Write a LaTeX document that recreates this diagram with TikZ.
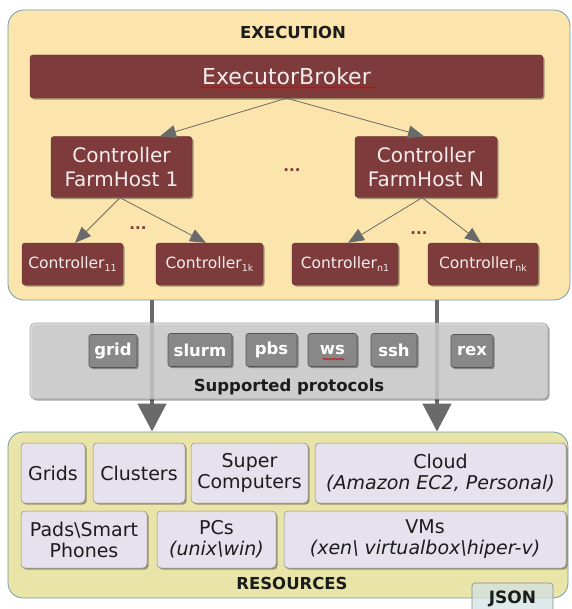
\documentclass[tikz,border=0pt]{standalone}
\usepackage{fontspec}
\setmainfont{DejaVu Sans}[ItalicFont={DejaVu Sans Oblique},BoldFont={DejaVu Sans Bold}]
\usetikzlibrary{arrows.meta,shadows,decorations.pathmorphing}

\definecolor{execfill}{HTML}{FBE5AD}
\definecolor{resfill}{HTML}{E9E4A8}
\definecolor{framebord}{HTML}{6E9DAE}
\definecolor{brick}{HTML}{7E3B3B}
\definecolor{nodetext}{HTML}{F4ECEC}
\definecolor{arrowgray}{HTML}{6A6A6A}
\definecolor{protofill}{HTML}{D8D8D8}
\definecolor{protoedge}{HTML}{A6A6A6}
\definecolor{chipgray}{HTML}{888888}
\definecolor{chipedge}{HTML}{555555}
\definecolor{lavender}{HTML}{E6E1EC}
\definecolor{resedge}{HTML}{8C8C8C}
\definecolor{jsonfill}{HTML}{D3E2E4}
\definecolor{labeltext}{HTML}{1C1C1C}

\newcommand{\fsz}[2]{\fontsize{#1}{#2}\selectfont}
\newcommand{\idx}[1]{\raisebox{-3.5pt}{\fsz{9.5}{10}#1}}

\tikzset{
  shad/.style={drop shadow={shadow xshift=1.6pt,shadow yshift=-1.6pt,opacity=0.35,fill=black}},
  frame/.style={draw=framebord,line width=0.8pt,rounded corners=16pt},
  redbox/.style={shad,fill=brick,draw=brick!80!black,line width=0.4pt,rounded corners=3pt,
    text=nodetext,align=center,inner sep=0pt},
  chip/.style={shad,fill=chipgray,draw=chipedge,line width=0.6pt,rounded corners=2.5pt,
    text=white,font=\bfseries\fsz{16.5}{18},inner sep=0pt,minimum height=33pt},
  resbox/.style={shad,fill=lavender,draw=resedge,line width=0.5pt,rounded corners=4pt,
    align=center,inner sep=0pt,text=labeltext,font=\fsz{19}{21}},
  thinarrow/.style={draw=arrowgray,line width=0.8pt,-{Triangle[width=13pt,length=16pt]}},
  bigarrow/.style={draw=arrowgray,line width=4.5pt,-{Triangle[width=28pt,length=28pt]}},
  dotsmark/.style={text=brick,font=\bfseries\fsz{15}{16}},
  squiggle/.style={draw=red!85!black,line width=0.6pt,
    decorate,decoration={snake,segment length=3pt,amplitude=0.8pt}},
}

\begin{document}
\begin{tikzpicture}[x=1pt,y=-1pt]
\useasboundingbox (0,0) rectangle (571,609);

% ---------- execution layer ----------
\node[frame,fill=execfill,minimum width=562pt,minimum height=290pt] (exec) at (289,155) {};
\node[font=\bfseries\fsz{16.5}{18},text=labeltext] (exectitle) at (293,32) {EXECUTION};

\node[redbox,minimum width=513pt,minimum height=43pt,font=\fsz{22}{24}] (broker) at (286.5,76.5) {ExecutorBroker};
\draw[squiggle] ([xshift=-86pt,yshift=-11pt]broker.center) -- ([xshift=89pt,yshift=-11pt]broker.center);

\node[redbox,minimum width=141pt,minimum height=61pt,font=\fsz{20}{24}] (fh1) at (121.5,167) {Controller\\FarmHost 1};
\node[redbox,minimum width=142pt,minimum height=61pt,font=\fsz{20}{24}] (fhn) at (426,167) {Controller\\FarmHost N};
\node[dotsmark] (dtop) at (292,170) {...};

\node[redbox,minimum width=101pt,minimum height=42pt,font=\fsz{15.5}{18}] (c11) at (72.5,264) {Controller\idx{11}};
\node[redbox,minimum width=107pt,minimum height=42pt,font=\fsz{15.5}{18}] (c1k) at (209.5,264) {Controller\idx{1k}};
\node[redbox,minimum width=106pt,minimum height=42pt,font=\fsz{15.5}{18}] (cn1) at (345,264) {Controller\idx{n1}};
\node[redbox,minimum width=110pt,minimum height=42pt,font=\fsz{15.5}{18}] (cnk) at (483,264) {Controller\idx{nk}};
\node[dotsmark] (dleft) at (138,228) {...};
\node[dotsmark] (dright) at (419,233) {...};

\draw[thinarrow] (broker.south) -- ([xshift=38.5pt]fh1.north);
\draw[thinarrow] (broker.south) -- ([xshift=-2pt]fhn.north);
\draw[thinarrow] ([xshift=-1.5pt]fh1.south) -- ([xshift=2.5pt]c11.north);
\draw[thinarrow] ([xshift=-1.5pt]fh1.south) -- ([xshift=-3.5pt]c1k.north);
\draw[thinarrow] ([xshift=-4pt]fhn.south) -- ([xshift=3pt]cn1.north);
\draw[thinarrow] ([xshift=-4pt]fhn.south) -- ([xshift=-2pt]cnk.north);

% ---------- resources layer ----------
\node[frame,fill=resfill,minimum width=560pt,minimum height=166pt,rounded corners=15pt] (res) at (288,515) {};

% ---------- dispatch arrows ----------
\coordinate (laneA) at (152,0);
\coordinate (laneB) at (437,0);
\draw[bigarrow] (exec.south -| laneA) -- (res.north -| laneA);
\draw[bigarrow] (exec.south -| laneB) -- (res.north -| laneB);

% ---------- protocols ----------
\node[shad,fill=protofill,fill opacity=0.8,draw=protoedge,line width=0.6pt,rounded corners=5pt,
  minimum width=518pt,minimum height=76pt] (proto) at (289,361) {};
\node[chip,minimum width=48pt] (grid) at (113,351) {grid};
\node[chip,minimum width=64pt] (slurm) at (200,350) {slurm};
\node[chip,minimum width=51pt] (pbs) at (271.5,350) {pbs};
\node[chip,minimum width=49pt] (ws) at (332.5,350) {ws};
\draw[squiggle] ([xshift=-10pt,yshift=-9pt]ws.center) -- ([xshift=12pt,yshift=-9pt]ws.center);
\node[chip,minimum width=46pt] (ssh) at (394,350) {ssh};
\node[chip,minimum width=42pt] (rex) at (472,351) {rex};
\node[font=\bfseries\fsz{16.5}{18},text=labeltext] (protolabel) at (289,387) {Supported protocols};

% ---------- resource kinds ----------
\node[resbox,minimum width=64pt,minimum height=60pt] (grids) at (53,473) {Grids};
\node[resbox,minimum width=92pt,minimum height=60pt] (clusters) at (139,473) {Clusters};
\node[resbox,minimum width=117pt,minimum height=60pt] (super) at (249.5,473) {Super\\Computers};
\node[resbox,minimum width=251pt,minimum height=60pt] (cloud) at (440.5,473) {Cloud\\\itshape(Amazon EC2, Personal)};
\node[resbox,minimum width=126pt,minimum height=57pt] (pads) at (84,539.5) {Pads\textbackslash Smart\\Phones};
\node[resbox,minimum width=119pt,minimum height=57pt] (pcs) at (216.5,539.5) {PCs\\\itshape(unix\textbackslash win)};
\node[resbox,minimum width=282pt,minimum height=57pt] (vms) at (425,539.5) {VMs\\\itshape(xen\textbackslash\ virtualbox\textbackslash hiper-v)};
\node[font=\bfseries\fsz{16.5}{18},text=labeltext] (restitle) at (292,583) {RESOURCES};

\node[fill=jsonfill,fill opacity=0.75,draw=resedge,line width=0.6pt,rounded corners=3pt,
  minimum width=81pt,minimum height=37pt] (jsonbox) at (512.5,601.5) {};
\node[font=\bfseries\fsz{17}{18},text=labeltext] (jsonlabel) at (512.5,599) {JSON};
\end{tikzpicture}
\end{document}
